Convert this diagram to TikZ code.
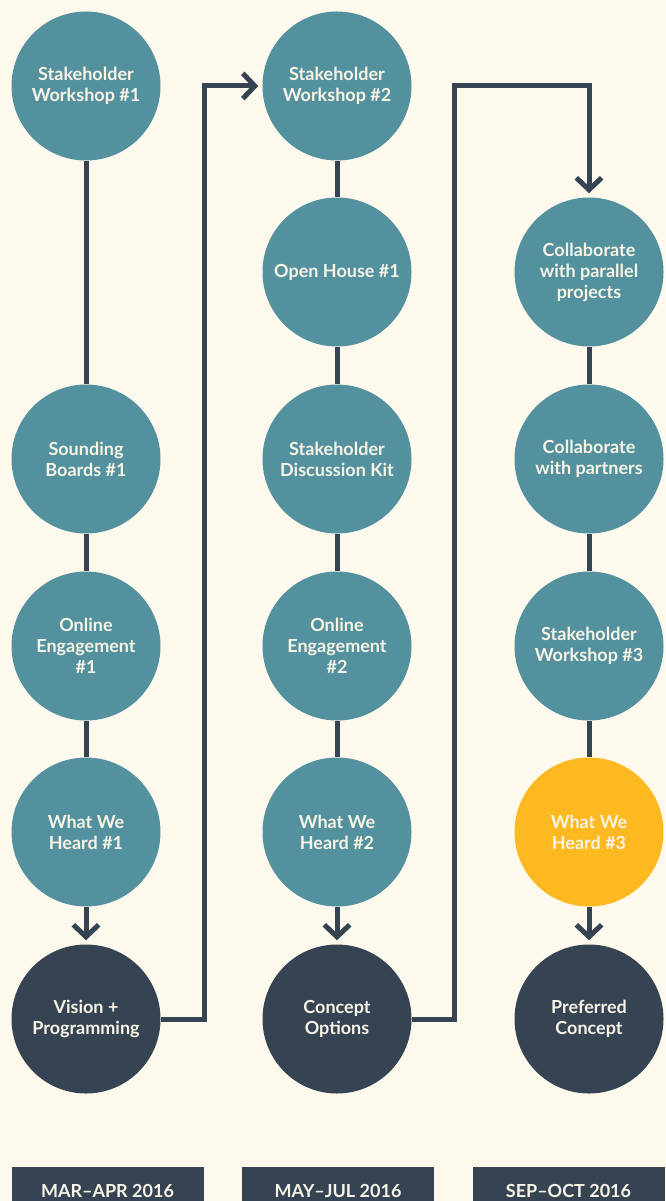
\documentclass[tikz,border=0pt]{standalone}
\usepackage{fontspec}
\setmainfont{Lato}
\usepackage{tikz}
\usetikzlibrary{arrows.meta}
\definecolor{bgcream}{HTML}{FDFAED}
\definecolor{teal}{HTML}{53919E}
\definecolor{navy}{HTML}{354352}
\definecolor{gold}{HTML}{FEB820}
\definecolor{paper}{HTML}{F8F4E6}
\tikzset{
  x=0.75pt, y=-0.75pt,
  step circle/.style={circle, fill=teal, minimum size=111.75pt, inner sep=0pt,
    align=center, text=paper, font=\bfseries\fontsize{13.5}{15.75}\selectfont},
  result/.style={step circle, fill=navy},
  heard/.style={step circle, fill=gold},
  period/.style={fill=navy, minimum width=144pt, minimum height=36pt, inner sep=0pt,
    text=paper, font=\bfseries\fontsize{13.5}{15}\selectfont},
  link/.style={draw=navy, line width=3.75pt},
  flow/.style={link, -{Straight Barb[length=9pt,width=19pt,line width=3.75pt]}, shorten >=3pt},
}
\begin{document}
\begin{tikzpicture}
  \clip (0,0) rectangle (666,1201);
  \fill[bgcream] (0,0) rectangle (666,1201);

  \node[step circle] (ws1)  at (86,86)   {Stakeholder\\Workshop \#1};
  \node[step circle] (sb1)  at (86,459)  {Sounding\\Boards \#1};
  \node[step circle] (oe1)  at (86,646)  {Online\\Engagement\\\#1};
  \node[step circle] (wwh1) at (86,832)  {What We\\Heard \#1};
  \node[result]      (vp)   at (86,1019) {Vision +\\Programming};

  \node[step circle] (ws2)  at (337,86)   {Stakeholder\\Workshop \#2};
  \node[step circle] (oh1)  at (337,272)  {Open House \#1};
  \node[step circle] (dk)   at (337,459)  {Stakeholder\\Discussion Kit};
  \node[step circle] (oe2)  at (337,646)  {Online\\Engagement\\\#2};
  \node[step circle] (wwh2) at (337,832)  {What We\\Heard \#2};
  \node[result]      (co)   at (337,1019) {Concept\\Options};

  \node[step circle] (cpp)  at (589,272)  {Collaborate\\with parallel\\projects};
  \node[step circle] (cp)   at (589,459)  {Collaborate\\with partners};
  \node[step circle] (ws3)  at (589,646)  {Stakeholder\\Workshop \#3};
  \node[heard]       (wwh3) at (589,832)  {What We\\Heard \#3};
  \node[result]      (pc)   at (589,1019) {Preferred\\Concept};

  \node[period] (p1) at (107.5,1191) {MAR--APR 2016};
  \node[period] (p2) at (338,1191)   {MAY--JUL 2016};
  \node[period] (p3) at (568.5,1191) {SEP--OCT 2016};

  \coordinate (j1) at (204,0);
  \coordinate (j2) at (454,0);

  \draw[link] (ws1) -- (sb1) -- (oe1) -- (wwh1);
  \draw[flow] (wwh1) -- (vp);
  \draw[link] (ws2) -- (oh1) -- (dk) -- (oe2) -- (wwh2);
  \draw[flow] (wwh2) -- (co);
  \draw[link] (cpp) -- (cp) -- (ws3) -- (wwh3);
  \draw[flow] (wwh3) -- (pc);

  \draw[flow] (vp.east) -- (vp.east -| j1) |- (ws2.west);
  \draw[flow] (co.east) -- (co.east -| j2) |- (ws2 -| cpp) -- (cpp.north);
\end{tikzpicture}
\end{document}
